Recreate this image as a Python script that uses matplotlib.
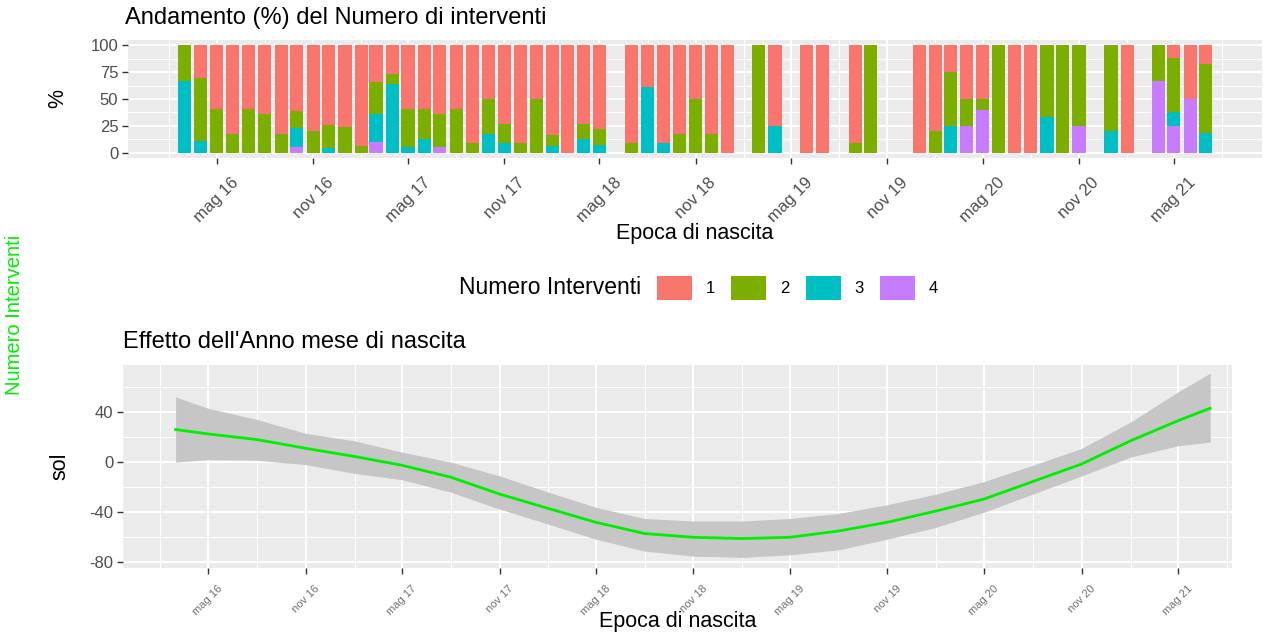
import matplotlib
matplotlib.use("Agg")
import matplotlib.pyplot as plt
import matplotlib.dates as mdates
from matplotlib.patches import Patch
import numpy as np
import pandas as pd

plt.rcParams['font.family'] = ['Liberation Sans', 'DejaVu Sans']
plt.rcParams['axes.unicode_minus'] = False

# ---- data: share (%) of number of interventions per birth month ----
months = ["2016-03", "2016-04", "2016-05", "2016-06", "2016-07", "2016-08", "2016-09",
          "2016-10", "2016-11", "2016-12", "2017-01", "2017-02", "2017-03", "2017-04",
          "2017-05", "2017-06", "2017-07", "2017-08", "2017-09", "2017-10", "2017-11",
          "2017-12", "2018-01", "2018-02", "2018-03", "2018-04", "2018-05", "2018-07",
          "2018-08", "2018-09", "2018-10", "2018-11", "2018-12", "2019-01", "2019-03",
          "2019-04", "2019-06", "2019-07", "2019-09", "2019-10", "2020-01", "2020-02",
          "2020-03", "2020-04", "2020-05", "2020-06", "2020-07", "2020-08", "2020-09",
          "2020-10", "2020-11", "2021-01", "2021-02", "2021-04", "2021-05", "2021-06",
          "2021-07"]
pct_1 = [0, 30, 59, 83, 59, 64, 83, 61, 80, 74, 76, 94, 34, 27, 59, 59, 64, 59, 91, 50, 73,
         91, 50, 84, 100, 73, 78, 91, 39, 91, 83, 50, 83, 100, 0, 75, 100, 100, 91, 0, 100, 80,
         25, 50, 50, 0, 100, 100, 0, 0, 0, 0, 100, 0, 12, 50, 17]
pct_2 = [33, 59, 41, 17, 41, 36, 17, 16, 20, 22, 24, 6, 30, 9, 36, 28, 31, 41, 9, 33, 18,
         9, 50, 10, 0, 14, 15, 9, 0, 0, 17, 50, 17, 0, 100, 0, 0, 0, 9, 100, 0, 20,
         50, 25, 10, 100, 0, 0, 67, 100, 75, 80, 0, 33, 50, 0, 65]
pct_3 = [67, 11, 0, 0, 0, 0, 0, 18, 0, 4, 0, 0, 26, 64, 5, 13, 0, 0, 0, 17, 9,
         0, 0, 6, 0, 13, 7, 0, 61, 9, 0, 0, 0, 0, 0, 25, 0, 0, 0, 0, 0, 0,
         25, 0, 0, 0, 0, 0, 33, 0, 0, 20, 0, 0, 13, 0, 18]
pct_4 = [0, 0, 0, 0, 0, 0, 0, 5, 0, 0, 0, 0, 10, 0, 0, 0, 5, 0, 0, 0, 0,
         0, 0, 0, 0, 0, 0, 0, 0, 0, 0, 0, 0, 0, 0, 0, 0, 0, 0, 0, 0, 0,
         0, 25, 40, 0, 0, 0, 0, 0, 25, 0, 0, 67, 25, 50, 0]
levels = ["1", "2", "3", "4"]
level_colors = ["#F8766D", "#7CAE00", "#00BFC4", "#C77CFF"]

# ---- data: smooth effect of birth month (fit and band) ----
fit_dates = ["2016-03-01", "2016-05-01", "2016-08-01", "2016-11-01", "2017-02-01",
             "2017-05-01", "2017-08-01", "2017-11-01", "2018-02-01", "2018-05-01",
             "2018-08-01", "2018-11-01", "2019-02-01", "2019-05-01", "2019-08-01",
             "2019-11-01", "2020-02-01", "2020-05-01", "2020-08-01", "2020-11-01",
             "2021-02-01", "2021-05-01", "2021-07-01"]
sol_fit = [26, 22.5, 18, 11, 4.5, -2.5, -12, -25.5, -37, -48, -57, -60, -61, -60, -55,
           -48, -39, -29.5, -15.5, -1.5, 17, 33, 43]
sol_upper = [52, 43, 34, 23, 17, 8, 0, -11, -24, -36, -45, -47, -47, -45, -41, -34,
             -25.5, -15.5, -2.5, 11, 32, 56, 71]
sol_lower = [0, 2, 1.5, -2, -9, -14, -24, -37.5, -49.5, -61.5, -71, -75, -76, -74, -70,
             -61.5, -52, -40, -25.5, -11, 4, 13, 16]

tick_dates = ["2016-05-01", "2016-11-01", "2017-05-01", "2017-11-01", "2018-05-01",
              "2018-11-01", "2019-05-01", "2019-11-01", "2020-05-01", "2020-11-01",
              "2021-05-01"]
tick_labels = ["mag 16", "nov 16", "mag 17", "nov 17", "mag 18", "nov 18",
               "mag 19", "nov 19", "mag 20", "nov 20", "mag 21"]
minor_dates = ["2016-02-01", "2016-08-01", "2017-02-01", "2017-08-01",
               "2018-02-01", "2018-08-01", "2019-02-01", "2019-08-01", "2020-02-01",
               "2020-08-01", "2021-02-01", "2021-08-01"]

W, H = 1268, 640
fig = plt.figure(figsize=(W / 100, H / 100), dpi=100)


def px_axes(left, top, right, bottom):
    return fig.add_axes([left / W, 1 - bottom / H, (right - left) / W, (bottom - top) / H])


def gg_style(ax):
    ax.set_facecolor("#EBEBEB")
    for s in ax.spines.values():
        s.set_visible(False)
    ax.grid(which="major", color="white", lw=1.4)
    ax.grid(which="minor", color="white", lw=0.7)
    ax.set_axisbelow(True)
    ax.tick_params(which="major", length=4, width=1, color="#333333", labelcolor="#4D4D4D")
    ax.tick_params(which="minor", length=0)


def dnum(s):
    return mdates.date2num(pd.Timestamp(s))


x_bar = mdates.date2num(pd.to_datetime(months))
ticks_num = mdates.date2num(pd.to_datetime(tick_dates))
minor_num = mdates.date2num(pd.to_datetime(minor_dates))

# ---------------- top panel ----------------
ax1 = px_axes(128, 40, 1262, 158)
gg_style(ax1)
stack = [pct_4, pct_3, pct_2, pct_1]
stack_cols = [level_colors[3], level_colors[2], level_colors[1], level_colors[0]]
bottom = np.zeros(len(months))
for vals, col in zip(stack, stack_cols):
    vals = np.array(vals, dtype=float)
    ax1.bar(x_bar, vals, bottom=bottom, width=25, color=col, lw=0)
    bottom += vals

ax1.set_yticks([0, 25, 50, 75, 100])
ax1.set_yticks([12.5, 37.5, 62.5, 87.5], minor=True)
ax1.set_xticks(ticks_num)
ax1.set_xticklabels(tick_labels, rotation=45, ha="center", va="top", fontsize=12)
ax1.set_xticks(minor_num, minor=True)
ax1.set_xlim(dnum("2015-11-14"), dnum("2021-10-16"))
ax1.set_ylim(-5, 105)
ax1.tick_params(axis="x", pad=8)
ax1.tick_params(axis="y", labelsize=12, pad=3)
ax1.set_xlabel("Epoca di nascita", fontsize=15.5, va="center")
ax1.xaxis.set_label_coords(0.5, (158 - 233) / 118)
ax1.set_ylabel("%", fontsize=15.5, va="center")
ax1.yaxis.set_label_coords((58 - 128) / 1134, 0.5)

fig.text(125 / W, 1 - 18 / H, "Andamento (%) del Numero di interventi", fontsize=17,
         ha="left", va="center")

# legend
handles = [Patch(facecolor=c, edgecolor="none") for c in level_colors]
fig.text(641 / W, 1 - 288 / H, "Numero Interventi", fontsize=16.5, ha="right", va="center")
fig.legend(handles, levels, loc="center left", bbox_to_anchor=(657 / W, 1 - 288 / H),
           ncol=4, frameon=False, fontsize=12, handlelength=2.1, handleheight=1.8,
           handletextpad=0.85, columnspacing=0.95, borderpad=0, borderaxespad=0)

# green side label
fig.text(15 / W, 1 - 315 / H, "Numero Interventi", fontsize=14.5, color="#00EE00",
         rotation=90, ha="center", va="center")

# ---------------- bottom panel ----------------
ax2 = px_axes(123, 365, 1232, 568)
gg_style(ax2)
x_fit = mdates.date2num(pd.to_datetime(fit_dates))
ax2.fill_between(x_fit, sol_lower, sol_upper, color="#C6C6C6", lw=0, zorder=2)
ax2.plot(x_fit, sol_fit, color="#00EE00", lw=2, zorder=3)

ax2.set_yticks([-80, -40, 0, 40])
ax2.set_yticks([-60, -20, 20, 60], minor=True)
ax2.set_xticks(ticks_num)
ax2.set_xticklabels(tick_labels, rotation=45, ha="center", va="top", fontsize=8,
                    color="#707070")
ax2.set_xticks(minor_num, minor=True)
ax2.set_xlim(dnum("2015-11-23"), dnum("2021-08-11"))
ax2.set_ylim(-84.5, 77.5)
ax2.tick_params(axis="x", pad=7)
ax2.tick_params(axis="y", labelsize=12, pad=3)
ax2.set_xlabel("Epoca di nascita", fontsize=15.5, va="center")
ax2.xaxis.set_label_coords(0.5, (568 - 622) / 203)
ax2.set_ylabel("sol", fontsize=15.5, va="center")
ax2.yaxis.set_label_coords((60 - 123) / 1109, 0.5)

fig.text(123 / W, 1 - 342 / H, "Effetto dell'Anno mese di nascita", fontsize=17,
         ha="left", va="center")

fig.savefig("out.png", dpi=100)
